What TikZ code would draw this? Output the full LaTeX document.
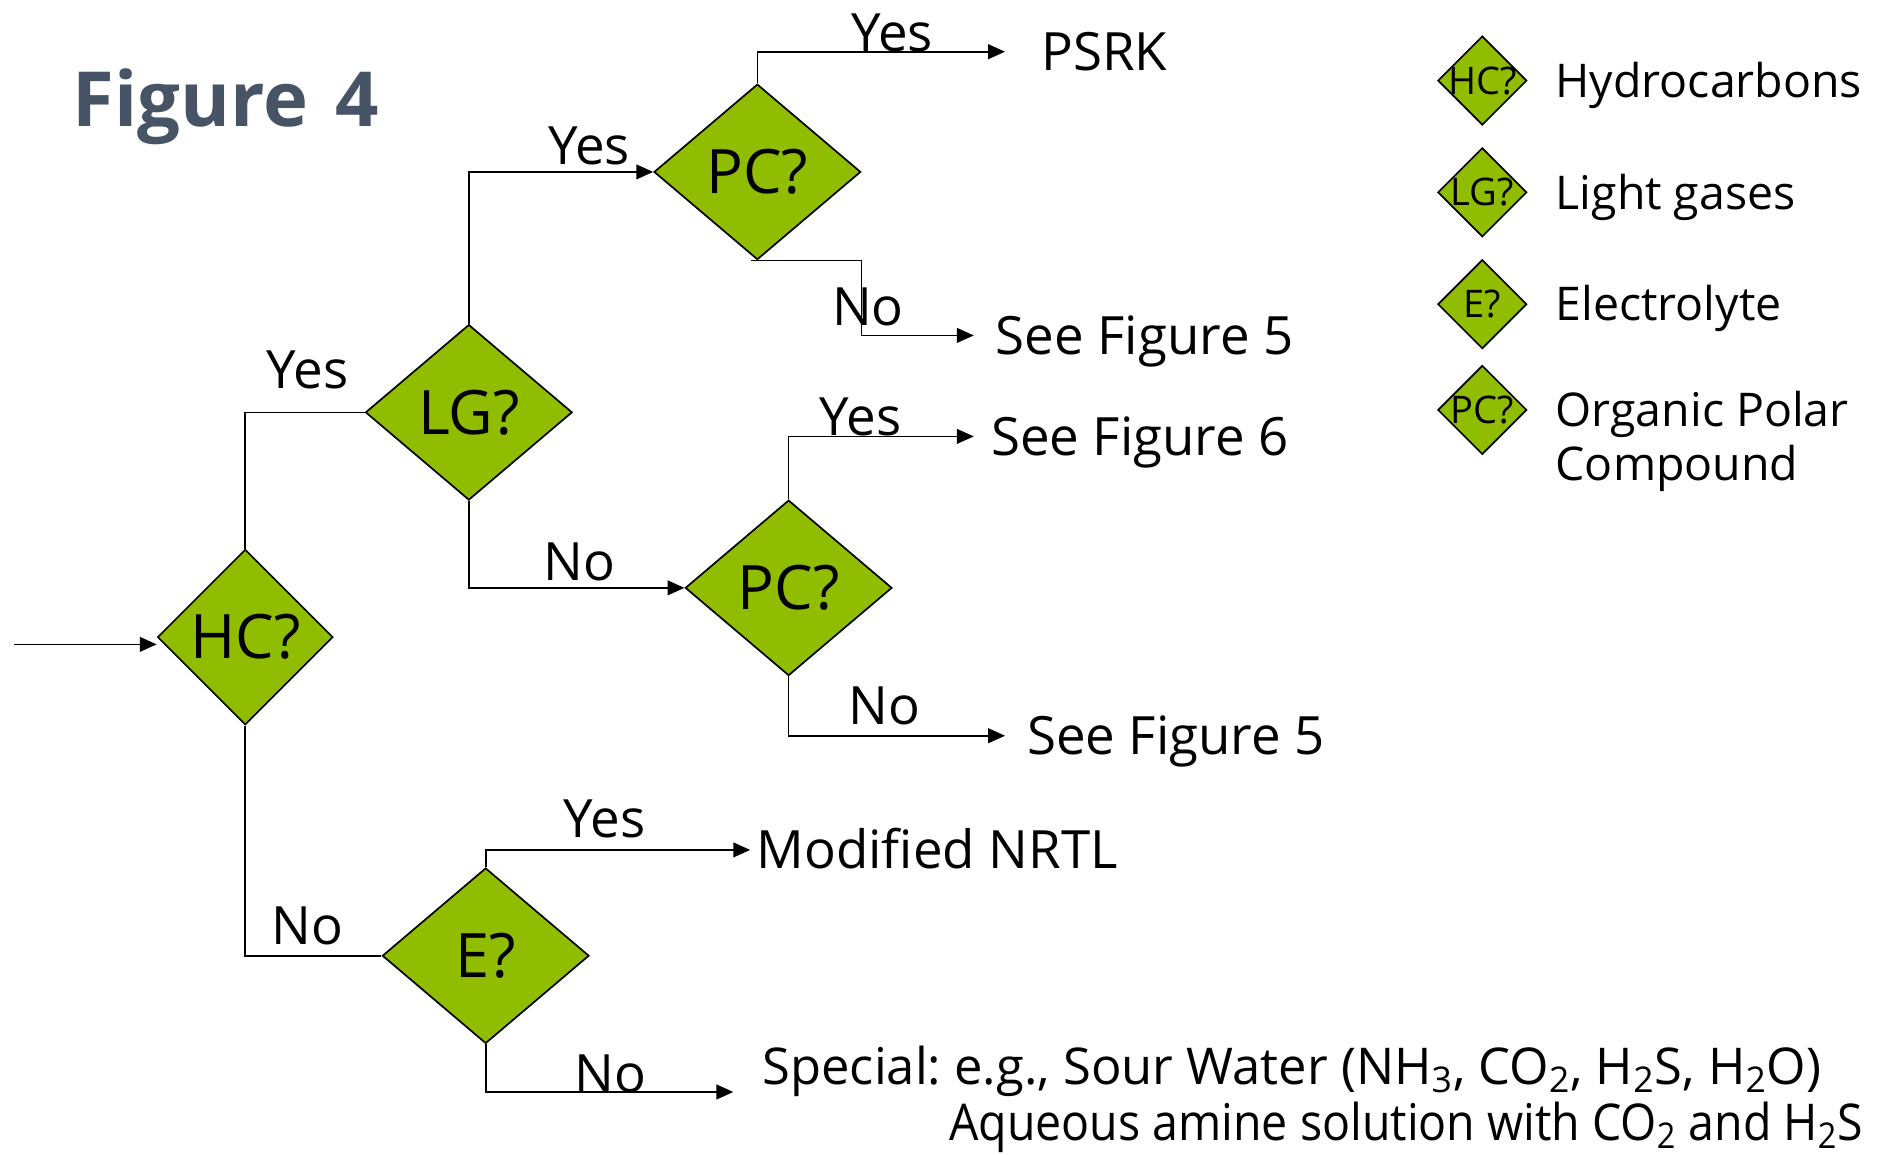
\documentclass[tikz,border=0pt]{standalone}
\usepackage{fontspec}
\setmainfont{Open Sans}
\usepackage{graphicx}
\usetikzlibrary{shapes.geometric, arrows.meta, positioning}
\definecolor{decgreen}{RGB}{145,189,0}
\definecolor{titlegrey}{RGB}{70,84,102}
\frenchspacing
\tikzset{
>={Triangle[length=8pt,width=7pt]},
  decision/.style={
    diamond,
    aspect=1.18,
    draw=black, line width=0.8pt,
    fill=decgreen,
    inner sep=0pt,
    minimum width=3.44cm,
    minimum height=2.92cm,
    font=\fontsize{29}{33}\selectfont},
  keybox/.style={
    diamond,
    draw=black, line width=0.8pt,
    fill=decgreen,
    inner sep=0pt,
    minimum width=1.48cm,
    minimum height=1.48cm},
  keyq/.style={inner sep=0pt, font=\fontsize{18}{20}\selectfont},
  keytext/.style={anchor=base west, inner sep=0pt, align=left,
    font=\fontsize{22}{25.5}\selectfont},
  result/.style={anchor=west, inner ysep=0pt, inner xsep=0.36cm,
    text height=18pt, text depth=0pt,
    font=\fontsize{25}{29}\selectfont},
  answer/.style={inner sep=0pt, font=\fontsize{25}{29}\selectfont},
  wire/.style={draw, line width=0.8pt},
}
\begin{document}
\begin{tikzpicture}[x=0.02cm, y=-0.02cm]
  \useasboundingbox (0,0) rectangle (1568,960);

  \node[anchor=base west, inner sep=0pt, text=titlegrey,
    font=\fontsize{36}{40}\selectfont\bfseries] (title) at (60,105) {Figure\hspace{0.1em} 4};

  % decision diamonds
  \node[decision, minimum width=2.92cm] (hc) at (204,530) {HC?};
  \node[decision] (lg)  at (390,343) {LG?};
  \node[decision] (pcA) at (630,143) {PC?};
  \node[decision] (pcB) at (656,489) {PC?};
  \node[decision] (el)  at (404,795) {E?};

  % end points
  \node[result, inner xsep=0.6cm]  (psrk) at (836,43)  {PSRK};
  \node[result]                    (figA) at (810,279) {See Figure 5};
  \node[result, inner xsep=0.28cm] (figB) at (810,363) {See Figure 6};
  \node[result]                    (figC) at (836,612) {See Figure 5};
  \node[result, inner xsep=0.1cm]  (nrtl) at (624,707) {Modified NRTL};
  \node[result, anchor=base west, inner xsep=0.48cm, text depth=3.4pt,
    font=\fontsize{24}{28}\selectfont] (special) at (610,902)
    {Special: e.g., Sour Water (NH\textsubscript{3}, CO\textsubscript{2}, H\textsubscript{2}S, H\textsubscript{2}O)};
  \node[result, anchor=base east, inner sep=0pt,
    font=\fontsize{24}{28}\selectfont] (amine) at (1550,949)
    {\scalebox{0.917}[1]{Aqueous amine solution with CO\textsubscript{2} and H\textsubscript{2}S}};

  % connectors
  \coordinate (start) at (12,536);
  \draw[wire,->] (start) -- (start -| hc.west);
  \draw[wire] (hc.north) |- (lg.west);
  \draw[wire] (hc.south) |- (el.west);
  \draw[wire,->] (lg.north) |- (pcA.west);
  \draw[wire,->] (lg.south) |- (pcB.west);
  \draw[wire,->] (pcA.north) |- (psrk.west);
  \draw[wire,->] ([xshift=-0.1cm]pcA.south) -| (pcA.east |- figA.west) -- (figA.west);
  \draw[wire,->] (pcB.north) |- (figB.west);
  \draw[wire,->] (pcB.south) |- (figC.west);
  \draw[wire,->] (el.north) |- (nrtl.west);
  \draw[wire,->] (el.south) |- (special.south west);

  % yes / no
  \node[answer] (yesHC) at (256,308) {Yes};
  \node[answer] (noHC)  at (256,770) {No};
  \node[answer] (yesLG) at (490,121) {Yes};
  \node[answer] (noLG)  at (482,467) {No};
  \node[answer] (yesPA) at (742,27)  {Yes};
  \node[answer] (noPA)  at (722,255) {No};
  \node[answer] (yesPB) at (716,347) {Yes};
  \node[answer] (noPB)  at (736,587) {No};
  \node[answer] (yesE)  at (503,681) {Yes};
  \node[answer] (noE)   at (508,893) {No};

  % key
  \node[keybox, label={[keyq]center:HC?}] (keyHC) at (1233,67)  {};
  \node[keybox, label={[keyq]center:LG?}] (keyLG) at (1233,160) {};
  \node[keybox, label={[keyq]center:E?}]  (keyE)  at (1233,253) {};
  \node[keybox, label={[keyq]center:PC?}] (keyPC) at (1233,341) {};
  \node[keytext] (txtHC) at ([xshift=0.46cm, yshift=-0.28cm]keyHC.east) {Hydrocarbons};
  \node[keytext] (txtLG) at ([xshift=0.46cm, yshift=-0.28cm]keyLG.east) {Light gases};
  \node[keytext] (txtE)  at ([xshift=0.46cm, yshift=-0.28cm]keyE.east)  {Electrolyte};
  \node[keytext] (txtPC) at ([xshift=0.46cm, yshift=-1.18cm]keyPC.east) {Organic Polar\\Compound};
\end{tikzpicture}
\end{document}
